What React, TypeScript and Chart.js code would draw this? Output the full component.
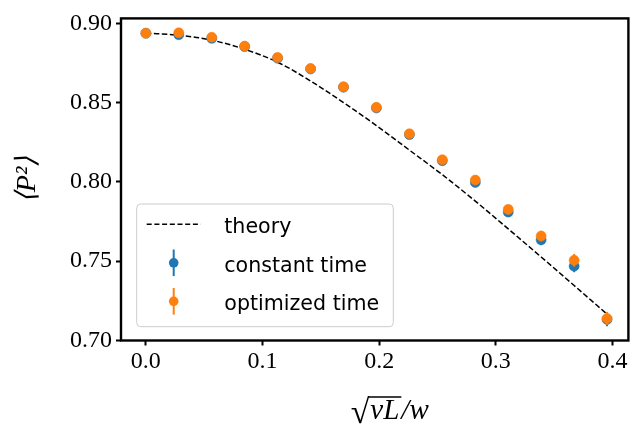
import React, { useEffect, useRef } from "react";
import { Chart, registerables } from "chart.js";

Chart.register(...registerables);

// ---- data ----
const xValues = [0, 0.0282, 0.0565, 0.0847, 0.1129, 0.1412, 0.1694, 0.1976, 0.2259, 0.2541, 0.2824, 0.3106, 0.3388, 0.3671, 0.3953];
const theoryValues = [0.8938, 0.8925, 0.8894, 0.8836, 0.8755, 0.8636, 0.85, 0.8355, 0.82, 0.8045, 0.7878, 0.7703, 0.7526, 0.7346, 0.7165];
const constantValues = [0.8937, 0.8928, 0.8905, 0.8853, 0.878, 0.8712, 0.8597, 0.8466, 0.8298, 0.8133, 0.7996, 0.7809, 0.7634, 0.7468, 0.7132];
const constantErrors = [0.0005, 0.0006, 0.0008, 0.001, 0.0012, 0.0014, 0.0016, 0.0018, 0.002, 0.0023, 0.0026, 0.003, 0.0033, 0.0038, 0.0043];
const optimizedValues = [0.8938, 0.894, 0.8912, 0.8856, 0.8785, 0.8715, 0.86, 0.847, 0.8303, 0.8139, 0.8011, 0.7826, 0.7658, 0.7505, 0.7138];
const optimizedErrors = [0.0005, 0.0006, 0.0008, 0.001, 0.0012, 0.0014, 0.0016, 0.0018, 0.002, 0.0023, 0.0026, 0.003, 0.0033, 0.004, 0.004];
const xTicks = [0, 0.1, 0.2, 0.3, 0.4];
const yTicks = [0.7, 0.75, 0.8, 0.85, 0.9];
const xRange = [-0.0213, 0.4136];
const yRange = [0.6999, 0.9031];
const seriesLabels = ["theory", "constant time", "optimized time"];
const yTitle = "\u27E8P\u00B2\u27E9";
const xTitleParts = ["\u221A", "\u03BDL", "/w"];

const BLUE = "#1f77b4";
const ORANGE = "#ff7f0e";
const SERIF = "'Liberation Serif', serif";
const SANS = "'DejaVu Sans', sans-serif";

const errorBarPlugin = {
  id: "errorBars",
  beforeDatasetDraw(chart: any, args: any) {
    const ds = chart.data.datasets[args.index] as any;
    if (!ds.errors) return;
    const { ctx } = chart;
    const xs = chart.scales.x;
    const ys = chart.scales.y;
    ctx.save();
    ctx.strokeStyle = ds.backgroundColor;
    ctx.lineWidth = 2;
    ds.data.forEach((p: any, i: number) => {
      const px = xs.getPixelForValue(p.x);
      ctx.beginPath();
      ctx.moveTo(px, ys.getPixelForValue(p.y - ds.errors[i]));
      ctx.lineTo(px, ys.getPixelForValue(p.y + ds.errors[i]));
      ctx.stroke();
    });
    ctx.restore();
  },
};

const framePlugin = {
  id: "frame",
  afterDatasetsDraw(chart: any) {
    const { ctx, chartArea: a } = chart;
    ctx.save();
    ctx.strokeStyle = "#000";
    ctx.lineWidth = 2.4;
    ctx.strokeRect(a.left, a.top, a.right - a.left, a.bottom - a.top);
    ctx.restore();
  },
};

const legendPlugin = {
  id: "boxLegend",
  afterDraw(chart: any) {
    const { ctx, chartArea: a } = chart;
    const bw = 256.6;
    const bh = 122.7;
    const bx = a.left + 15.7;
    const by = a.bottom - 13.8 - bh;
    const r = 4;
    ctx.save();
    ctx.beginPath();
    ctx.moveTo(bx + r, by);
    ctx.lineTo(bx + bw - r, by);
    ctx.quadraticCurveTo(bx + bw, by, bx + bw, by + r);
    ctx.lineTo(bx + bw, by + bh - r);
    ctx.quadraticCurveTo(bx + bw, by + bh, bx + bw - r, by + bh);
    ctx.lineTo(bx + r, by + bh);
    ctx.quadraticCurveTo(bx, by + bh, bx, by + bh - r);
    ctx.lineTo(bx, by + r);
    ctx.quadraticCurveTo(bx, by, bx + r, by);
    ctx.closePath();
    ctx.fillStyle = "rgba(255,255,255,0.8)";
    ctx.fill();
    ctx.strokeStyle = "#cccccc";
    ctx.lineWidth = 1;
    ctx.stroke();

    const baselines = [29.3, 67.8, 106.3];
    const colors = ["#000", BLUE, ORANGE];
    const symX0 = bx + 10;
    const symX1 = bx + 64;
    const symCx = (symX0 + symX1) / 2;
    ctx.font = `20.6px ${SANS}`;
    ctx.textBaseline = "alphabetic";
    ctx.textAlign = "left";
    seriesLabels.forEach((label, i) => {
      const base = by + baselines[i];
      const sy = base - 9;
      if (i === 0) {
        ctx.beginPath();
        ctx.setLineDash([5, 2.7]);
        ctx.strokeStyle = "#000";
        ctx.lineWidth = 1.5;
        ctx.moveTo(symX0, sy);
        ctx.lineTo(symX1, sy);
        ctx.stroke();
        ctx.setLineDash([]);
      } else {
        ctx.beginPath();
        ctx.strokeStyle = colors[i];
        ctx.lineWidth = 2;
        ctx.moveTo(symCx, sy - 13.3);
        ctx.lineTo(symCx, sy + 13.3);
        ctx.stroke();
        ctx.beginPath();
        ctx.fillStyle = colors[i];
        ctx.arc(symCx, sy, 4.8, 0, Math.PI * 2);
        ctx.fill();
      }
      ctx.fillStyle = "#000";
      ctx.fillText(label, bx + 87.6, base);
    });
    ctx.restore();
  },
};

const xTitlePlugin = {
  id: "xTitle",
  afterDraw(chart: any) {
    const { ctx, chartArea: a } = chart;
    const cx = (a.left + a.right) / 2 + 15;
    const baseline = a.bottom + 78.7;
    ctx.save();
    ctx.fillStyle = "#000";
    ctx.textBaseline = "alphabetic";
    ctx.textAlign = "left";
    const radFont = `34px ${SERIF}`;
    const itFont = `italic 29px ${SERIF}`;
    ctx.font = radFont;
    const radM = ctx.measureText(xTitleParts[0]);
    ctx.font = itFont;
    const w1 = ctx.measureText(xTitleParts[1]).width;
    const w2 = ctx.measureText(xTitleParts[2]).width;
    const total = radM.width + w1 + 3 + w2;
    let x = cx - total / 2;
    ctx.font = radFont;
    ctx.fillText(xTitleParts[0], x, baseline + 4);
    const topY = baseline + 4 - radM.actualBoundingBoxAscent + 0.8;
    const radEnd = x + radM.width;
    x = radEnd + 1;
    ctx.font = itFont;
    ctx.fillText(xTitleParts[1], x, baseline);
    ctx.beginPath();
    ctx.strokeStyle = "#000";
    ctx.lineWidth = 1.4;
    ctx.moveTo(radEnd - 1, topY);
    ctx.lineTo(x + w1 + 2, topY);
    ctx.stroke();
    x += w1 + 2;
    ctx.fillText(xTitleParts[2], x, baseline);
    ctx.restore();
  },
};

export default function App() {
  const ref = useRef<HTMLCanvasElement | null>(null);

  useEffect(() => {
    if (!ref.current) return;
    const chart = new Chart(ref.current, {
      type: "scatter",
      data: {
        datasets: [
          {
            type: "line",
            label: seriesLabels[0],
            data: xValues.map((x, i) => ({ x, y: theoryValues[i] })),
            borderColor: "#000",
            borderWidth: 1.5,
            borderDash: [5.5, 2.5],
            pointRadius: 0,
            showLine: true,
            fill: false,
            cubicInterpolationMode: "monotone",
            order: 3,
          } as any,
          {
            label: seriesLabels[1],
            data: xValues.map((x, i) => ({ x, y: constantValues[i] })),
            errors: constantErrors,
            backgroundColor: BLUE,
            borderColor: BLUE,
            pointRadius: 5,
            pointBorderWidth: 0.6,
            order: 2,
          } as any,
          {
            label: seriesLabels[2],
            data: xValues.map((x, i) => ({ x, y: optimizedValues[i] })),
            errors: optimizedErrors,
            backgroundColor: ORANGE,
            borderColor: ORANGE,
            pointRadius: 5,
            pointBorderWidth: 0.6,
            order: 1,
          } as any,
        ],
      },
      options: {
        responsive: false,
        animation: false,
        devicePixelRatio: 1,
        layout: { padding: { left: 0, right: 2, top: 10, bottom: 0 } },
        plugins: {
          legend: { display: false },
          tooltip: { enabled: false },
        },
        scales: {
          x: {
            type: "linear",
            min: xRange[0],
            max: xRange[1],
            afterBuildTicks: (scale: any) => {
              scale.ticks = xTicks.map((v) => ({ value: v }));
            },
            afterFit: (scale: any) => {
              scale.height = 85.5;
            },
            border: { display: false },
            grid: {
              drawOnChartArea: false,
              drawTicks: true,
              tickLength: 5,
              tickWidth: 2,
              tickColor: "#000",
              color: "#000",
            },
            ticks: {
              color: "#000",
              padding: 2,
              maxRotation: 0,
              font: { family: SERIF, size: 24 },
              callback: (v: any) => Number(v).toFixed(1),
            },
          },
          y: {
            type: "linear",
            min: yRange[0],
            max: yRange[1],
            afterBuildTicks: (scale: any) => {
              scale.ticks = yTicks.map((v) => ({ value: v }));
            },
            afterFit: (scale: any) => {
              scale.width = 121;
            },
            border: { display: false },
            grid: {
              drawOnChartArea: false,
              drawTicks: true,
              tickLength: 5,
              tickWidth: 2,
              tickColor: "#000",
              color: "#000",
            },
            ticks: {
              color: "#000",
              padding: 4,
              font: { family: SERIF, size: 24 },
              callback: (v: any) => Number(v).toFixed(2),
            },
            title: {
              display: true,
              text: yTitle,
              color: "#000",
              font: { family: SERIF, size: 28, style: "italic", lineHeight: 1.2 },
              padding: { top: 11, bottom: 0 },
            },
          },
        },
      },
      plugins: [errorBarPlugin, framePlugin, legendPlugin, xTitlePlugin],
    });
    return () => chart.destroy();
  }, []);

  return (
    <div style={{ position: "fixed", left: 0, top: 0, width: 634, height: 426, background: "#fff" }}>
      <canvas ref={ref} width={634} height={426} style={{ width: 634, height: 426, display: "block" }} />
    </div>
  );
}
